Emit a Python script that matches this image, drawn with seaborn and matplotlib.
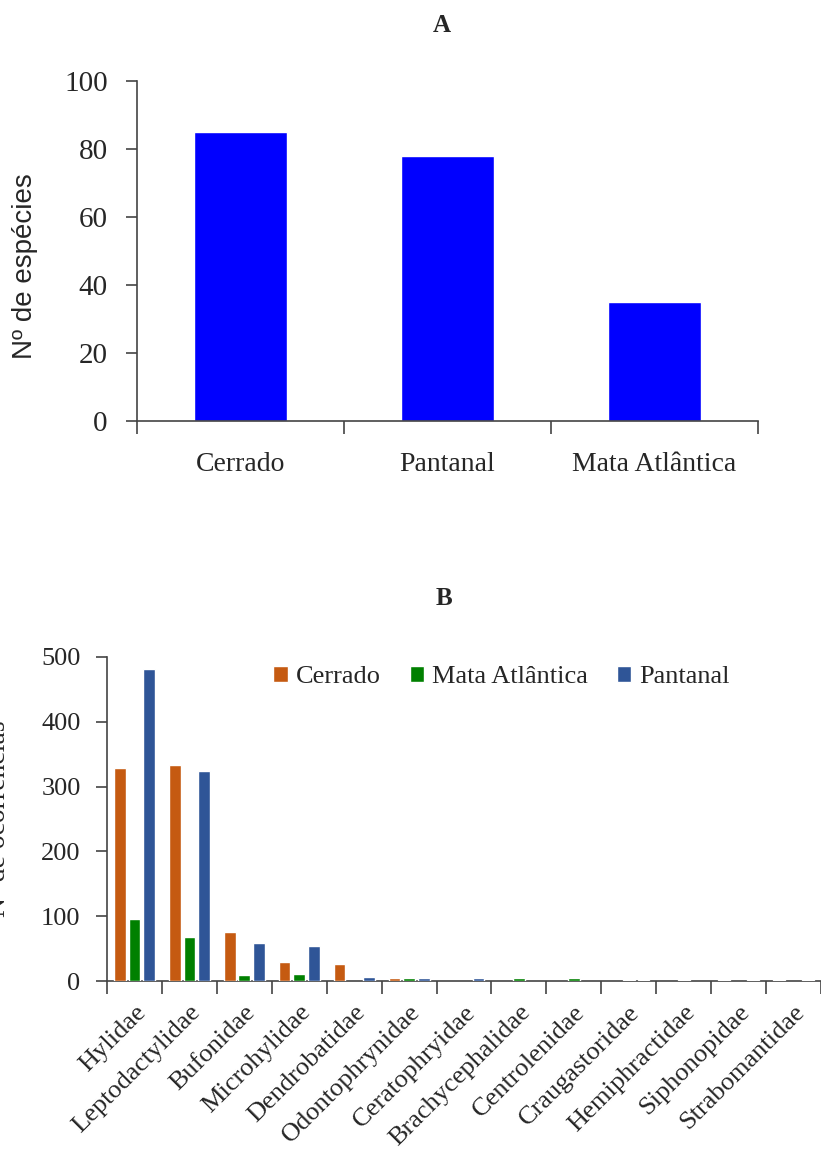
import matplotlib
matplotlib.use("Agg")
import matplotlib.pyplot as plt
from matplotlib.ticker import FixedLocator
import seaborn as sns
import pandas as pd
import numpy as np

# painel A
biomas = ['Cerrado', 'Pantanal', 'Mata Atlântica']
n_especies = [85, 78, 35]

# painel B
familias = ['Hylidae', 'Leptodactylidae', 'Bufonidae', 'Microhylidae', 'Dendrobatidae',
            'Odontophrynidae', 'Ceratophryidae', 'Brachycephalidae', 'Centrolenidae',
            'Craugastoridae', 'Hemiphractidae', 'Siphonopidae', 'Strabomantidae']
cerrado = [329, 334, 76, 29, 26, 4, 0, 0, 0, 0, 0, 2, 2]
mata_atlantica = [95, 68, 9, 11, 0, 4, 0, 4, 4, 2, 2, 0, 0]
pantanal = [482, 324, 58, 54, 6, 4, 4, 0, 0, 2, 0, 2, 2]
series = ['Cerrado', 'Mata Atlântica', 'Pantanal']
cores = {'Cerrado': '#C55A11', 'Mata Atlântica': '#008000', 'Pantanal': '#2F5597'}

sns.set_style('ticks')
plt.rcParams['font.family'] = ['Liberation Serif', 'DejaVu Serif']

fig = plt.figure(figsize=(8.21, 11.49), dpi=100)

def estiloEixo(ax, n, tamanho):
    sns.despine(ax=ax)
    for s in ['left', 'bottom']:
        ax.spines[s].set_color('#444444')
        ax.spines[s].set_linewidth(1.2)
    ax.set_xlim(-0.5, n - 0.5)
    ax.xaxis.set_minor_locator(FixedLocator(np.arange(-0.5, n, 1.0)))
    ax.tick_params(axis='x', which='major', length=0, labelsize=tamanho)
    ax.tick_params(axis='x', which='minor', length=9, width=1.2, color='#444444', direction='out')
    ax.tick_params(axis='y', length=8, width=1.2, color='#444444', labelsize=tamanho, direction='out')
    ax.set_xlabel('')

# ---- A
axA = fig.add_axes([0.1669, 0.6336, 0.7564, 0.2959])
dfA = pd.DataFrame({'bioma': biomas, 'n': n_especies})
sns.barplot(data=dfA, x='bioma', y='n', color='#0000FF', width=0.45, saturation=1, ax=axA)
axA.set_ylim(0, 100)
axA.set_yticks(range(0, 101, 20))
estiloEixo(axA, len(biomas), 20)
axA.tick_params(axis='x', which='major', pad=22)
axA.tick_params(axis='y', pad=13, labelsize=21)
axA.set_ylabel('Nº de espécies', family='Liberation Sans', fontsize=20)
axA.yaxis.set_label_coords(-0.16, 0.456)
fig.text(0.538, 0.978, 'A', ha='center', va='center', fontsize=18, weight='bold')

# ---- B
axB = fig.add_axes([0.1303, 0.1462, 0.8697, 0.2820])
dfB = pd.DataFrame({'familia': familias * 3,
                    'bioma': [s for s in series for _ in familias],
                    'n': cerrado + mata_atlantica + pantanal})
sns.barplot(data=dfB, x='familia', y='n', hue='bioma', hue_order=series, palette=cores,
            width=0.8, gap=0.2, saturation=1, ax=axB)
# barras pequenas por cima do eixo, barras zero escondidas
for cont in axB.containers:
    for p in cont.patches:
        if p.get_height() > 0:
            p.set_zorder(3)
        else:
            p.set_visible(False)
axB.set_ylim(0, 500)
axB.set_yticks(range(0, 501, 100))
estiloEixo(axB, len(familias), 19)
plt.setp(axB.get_xticklabels(), rotation=45, ha='right', rotation_mode='anchor', fontsize=19)
axB.tick_params(axis='x', which='major', pad=14.5)
axB.tick_params(axis='y', pad=11)
axB.set_ylabel('Nº de ocorrências', fontsize=20)
axB.yaxis.set_label_coords(-0.134, 0.5)
axB.legend(loc='center left', bbox_to_anchor=(0.218, 0.938), ncol=3, frameon=False,
           fontsize=19, handlelength=0.55, handleheight=0.55, handletextpad=0.3,
           columnspacing=1.1, borderaxespad=0)
fig.text(0.541, 0.4795, 'B', ha='center', va='center', fontsize=18, weight='bold')

fig.savefig('out.png', dpi=100)
